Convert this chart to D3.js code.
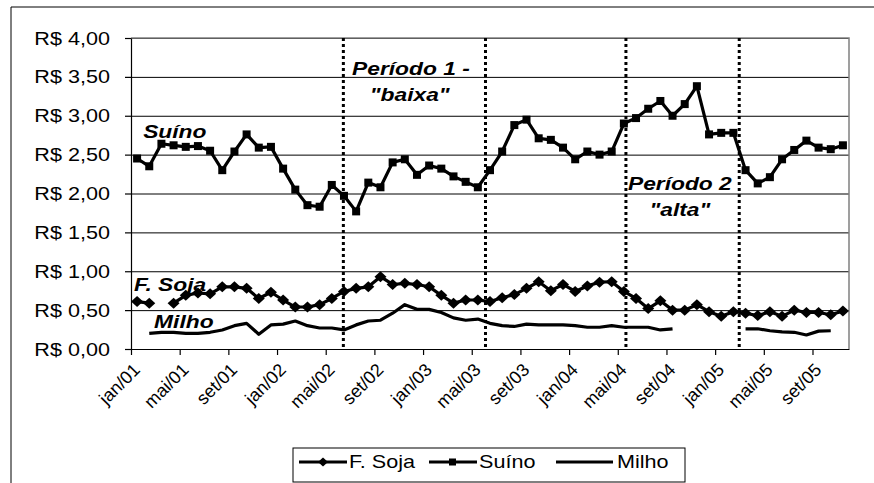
<!DOCTYPE html>
<html>
<head>
<meta charset="utf-8">
<script src="https://cdn.jsdelivr.net/npm/d3@7"></script>
<style>
    body { margin: 0; background: #fff; }
    svg { display: block; font-family: "Liberation Sans", Arial, sans-serif; }
</style>
</head>
<body>
<div id="chart"></div>
<script>
// Categories (jan/01 .. nov/05)
const months = [
    "jan/01","fev/01","mar/01","abr/01","mai/01","jun/01","jul/01","ago/01","set/01","out/01","nov/01","dez/01",
    "jan/02","fev/02","mar/02","abr/02","mai/02","jun/02","jul/02","ago/02","set/02","out/02","nov/02","dez/02",
    "jan/03","fev/03","mar/03","abr/03","mai/03","jun/03","jul/03","ago/03","set/03","out/03","nov/03","dez/03",
    "jan/04","fev/04","mar/04","abr/04","mai/04","jun/04","jul/04","ago/04","set/04","out/04","nov/04","dez/04",
    "jan/05","fev/05","mar/05","abr/05","mai/05","jun/05","jul/05","ago/05","set/05","out/05","nov/05"
];

// Series (R$)
const suino = [2.45,2.35,2.64,2.62,2.60,2.61,2.55,2.30,2.54,2.76,2.59,2.60,
    2.32,2.05,1.85,1.83,2.11,1.97,1.77,2.14,2.08,2.40,2.44,2.24,
    2.36,2.32,2.22,2.15,2.08,2.30,2.54,2.88,2.95,2.71,2.69,2.59,
    2.44,2.54,2.50,2.54,2.90,2.97,3.09,3.19,3.00,3.15,3.38,2.76,
    2.78,2.78,2.30,2.13,2.21,2.44,2.56,2.68,2.59,2.57,2.62];

const soja = [0.61,0.59,null,0.59,0.69,0.72,0.71,0.80,0.80,0.78,0.65,0.73,
    0.63,0.54,0.54,0.57,0.65,0.74,0.78,0.80,0.93,0.83,0.845,0.83,
    0.80,0.69,0.59,0.63,0.63,0.61,0.66,0.70,0.78,0.865,0.75,0.83,
    0.74,0.81,0.86,0.865,0.74,0.65,0.52,0.62,0.50,0.50,0.57,0.48,
    0.42,0.48,0.46,0.43,0.48,0.42,0.50,0.47,0.47,0.44,0.49];

const milho = [null,0.20,0.215,0.215,0.20,0.20,0.215,0.245,0.30,0.33,0.19,0.31,
    0.32,0.36,0.30,0.27,0.27,0.245,0.31,0.36,0.37,0.46,0.57,0.51,
    0.51,0.47,0.40,0.37,0.385,0.33,0.30,0.29,0.32,0.31,0.31,0.31,
    0.30,0.28,0.28,0.30,0.28,0.28,0.28,0.245,0.26,null,null,null,
    null,null,0.26,0.26,0.235,0.22,0.215,0.18,0.23,0.235,null];

// Axis ticks
const yTicks = [0, 0.5, 1, 1.5, 2, 2.5, 3, 3.5, 4];
const xTickEvery = 4;

// Period separators (category units) and annotations
const periodLines = [17.45, 29.13, 40.67, 49.98];
const notes = [
    { text: "Suíno", cat: 1.0, val: 2.71, anchor: "start" },
    { text: "F. Soja", cat: 0.25, val: 0.75, anchor: "start" },
    { text: "Milho", cat: 1.9, val: 0.27, anchor: "start" },
    { text: "Período 1 -", cat: 23.0, val: 3.52, anchor: "middle" },
    { text: "\"baixa\"", cat: 22.9, val: 3.19, anchor: "middle" },
    { text: "Período 2", cat: 45.1, val: 2.04, anchor: "middle" },
    { text: "\"alta\"", cat: 45.1, val: 1.71, anchor: "middle" }
];

const W = 874, H = 483;
const plot = { left: 131, right: 849, top: 38, bottom: 349 };
const stretch = 1.2; // the original picture is horizontally stretched

const svg = d3.select("#chart").append("svg")
    .attr("width", W)
    .attr("height", H);

svg.append("rect").attr("width", W).attr("height", H).attr("fill", "#fff");

// chart area frame (cropped on right/bottom)
svg.append("path")
    .attr("d", `M11,${H}V7H${W}`)
    .attr("fill", "none")
    .attr("stroke", "#000")
    .attr("stroke-width", 1);

const x = d3.scaleBand()
    .domain(d3.range(months.length))
    .range([plot.left, plot.right])
    .padding(0);
const xc = i => x(i) + x.bandwidth() / 2;

const xLin = d3.scaleLinear()
    .domain([0, months.length])
    .range([plot.left, plot.right]);

const y = d3.scaleLinear()
    .domain([0, 4])
    .range([plot.bottom, plot.top]);

// Gridlines
svg.append("g")
    .attr("transform", `translate(${plot.left},0)`)
    .call(d3.axisLeft(y).tickValues(yTicks.slice(1)).tickSize(-(plot.right - plot.left)).tickFormat(""))
    .call(g => g.select(".domain").remove())
    .call(g => g.selectAll("line").attr("stroke", "#000").attr("stroke-width", 1));

// Plot area border (top / right)
svg.append("path")
    .attr("d", `M${plot.left},${plot.top}H${plot.right}V${plot.bottom}`)
    .attr("fill", "none")
    .attr("stroke", "#808080")
    .attr("stroke-width", 1.5);

// Y axis
svg.append("g")
    .attr("transform", `translate(${plot.left},0)`)
    .call(d3.axisLeft(y).tickValues(yTicks).tickSize(6).tickSizeOuter(0).tickFormat(""))
    .call(g => g.selectAll("line,path").attr("stroke", "#000").attr("stroke-width", 1.2));

const fmt = v => "R$ " + d3.format(".2f")(v).replace(".", ",");
svg.append("g")
    .selectAll("text")
    .data(yTicks)
    .join("text")
    .attr("transform", d => `translate(${plot.left - 21},${y(d) + 6.5}) scale(${stretch},1)`)
    .attr("text-anchor", "end")
    .style("font-size", "18px")
    .text(fmt);

// X axis
const xTickVals = d3.range(0, months.length, xTickEvery);
svg.append("g")
    .attr("transform", `translate(0,${plot.bottom})`)
    .call(d3.axisBottom(xLin).tickValues(xTickVals).tickSize(6).tickSizeOuter(0).tickFormat(""))
    .call(g => g.selectAll("line,path").attr("stroke", "#000").attr("stroke-width", 1.2));

svg.append("g")
    .selectAll("text")
    .data(xTickVals)
    .join("text")
    .attr("transform", d => `translate(${xc(d) + 4},${plot.bottom + 22}) rotate(-45)`)
    .attr("text-anchor", "end")
    .style("font-size", "18px")
    .text(d => months[d]);

// Period separators
svg.append("g")
    .selectAll("line")
    .data(periodLines)
    .join("line")
    .attr("x1", d => xLin(d))
    .attr("x2", d => xLin(d))
    .attr("y1", plot.top)
    .attr("y2", plot.bottom)
    .attr("stroke", "#000")
    .attr("stroke-width", 3)
    .attr("stroke-dasharray", "3,3");

// Lines
const line = d3.line()
    .defined(d => d != null)
    .x((d, i) => xc(i))
    .y(d => y(d));

[milho, soja, suino].forEach(s => {
    svg.append("path")
        .datum(s)
        .attr("fill", "none")
        .attr("stroke", "#000")
        .attr("stroke-width", 3.2)
        .attr("stroke-linejoin", "round")
        .attr("d", line);
});

// Markers
const sojaPts = soja.map((v, i) => ({ i, v })).filter(d => d.v != null);
const diamond = "M0,-5.5L6,0L0,5.5L-6,0Z";
svg.append("g")
    .selectAll("path")
    .data(sojaPts)
    .join("path")
    .attr("transform", d => `translate(${xc(d.i)},${y(d.v)})`)
    .attr("d", diamond)
    .attr("fill", "#000");

svg.append("g")
    .selectAll("rect")
    .data(suino.map((v, i) => ({ i, v })))
    .join("rect")
    .attr("x", d => xc(d.i) - 4)
    .attr("y", d => y(d.v) - 4)
    .attr("width", 8)
    .attr("height", 8)
    .attr("fill", "#000");

// Annotations
svg.append("g")
    .selectAll("text")
    .data(notes)
    .join("text")
    .attr("transform", d => `translate(${xLin(d.cat)},${y(d.val)}) scale(${stretch},1)`)
    .attr("text-anchor", d => d.anchor)
    .style("font-size", "19px")
    .style("font-weight", "bold")
    .style("font-style", "italic")
    .text(d => d.text);

// Legend
const legendItems = [
    { name: "F. Soja", marker: "diamond", x0: 299 },
    { name: "Suíno", marker: "square", x0: 429 },
    { name: "Milho", marker: "none", x0: 556 }
];
const legend = svg.append("g");
legend.append("rect")
    .attr("x", 293).attr("y", 448)
    .attr("width", 392).attr("height", 34)
    .attr("fill", "#fff")
    .attr("stroke", "#000")
    .attr("stroke-width", 1);

const li = legend.selectAll("g.item")
    .data(legendItems)
    .join("g")
    .attr("class", "item")
    .attr("transform", d => `translate(${d.x0},462)`);

li.append("line")
    .attr("x1", 0).attr("x2", d => d.marker === "none" ? 57 : 48)
    .attr("y1", 0).attr("y2", 0)
    .attr("stroke", "#000")
    .attr("stroke-width", 3);

li.filter(d => d.marker === "diamond").append("path")
    .attr("transform", "translate(24,0)")
    .attr("d", "M0,-4.5L5,0L0,4.5L-5,0Z")
    .attr("fill", "#000");

li.filter(d => d.marker === "square").append("rect")
    .attr("x", 20).attr("y", -3.5)
    .attr("width", 7).attr("height", 7)
    .attr("fill", "#000");

li.append("text")
    .attr("transform", d => `translate(${d.marker === "none" ? 61 : 50},6) scale(${stretch},1)`)
    .style("font-size", "18px")
    .text(d => d.name);
</script>
</body>
</html>
